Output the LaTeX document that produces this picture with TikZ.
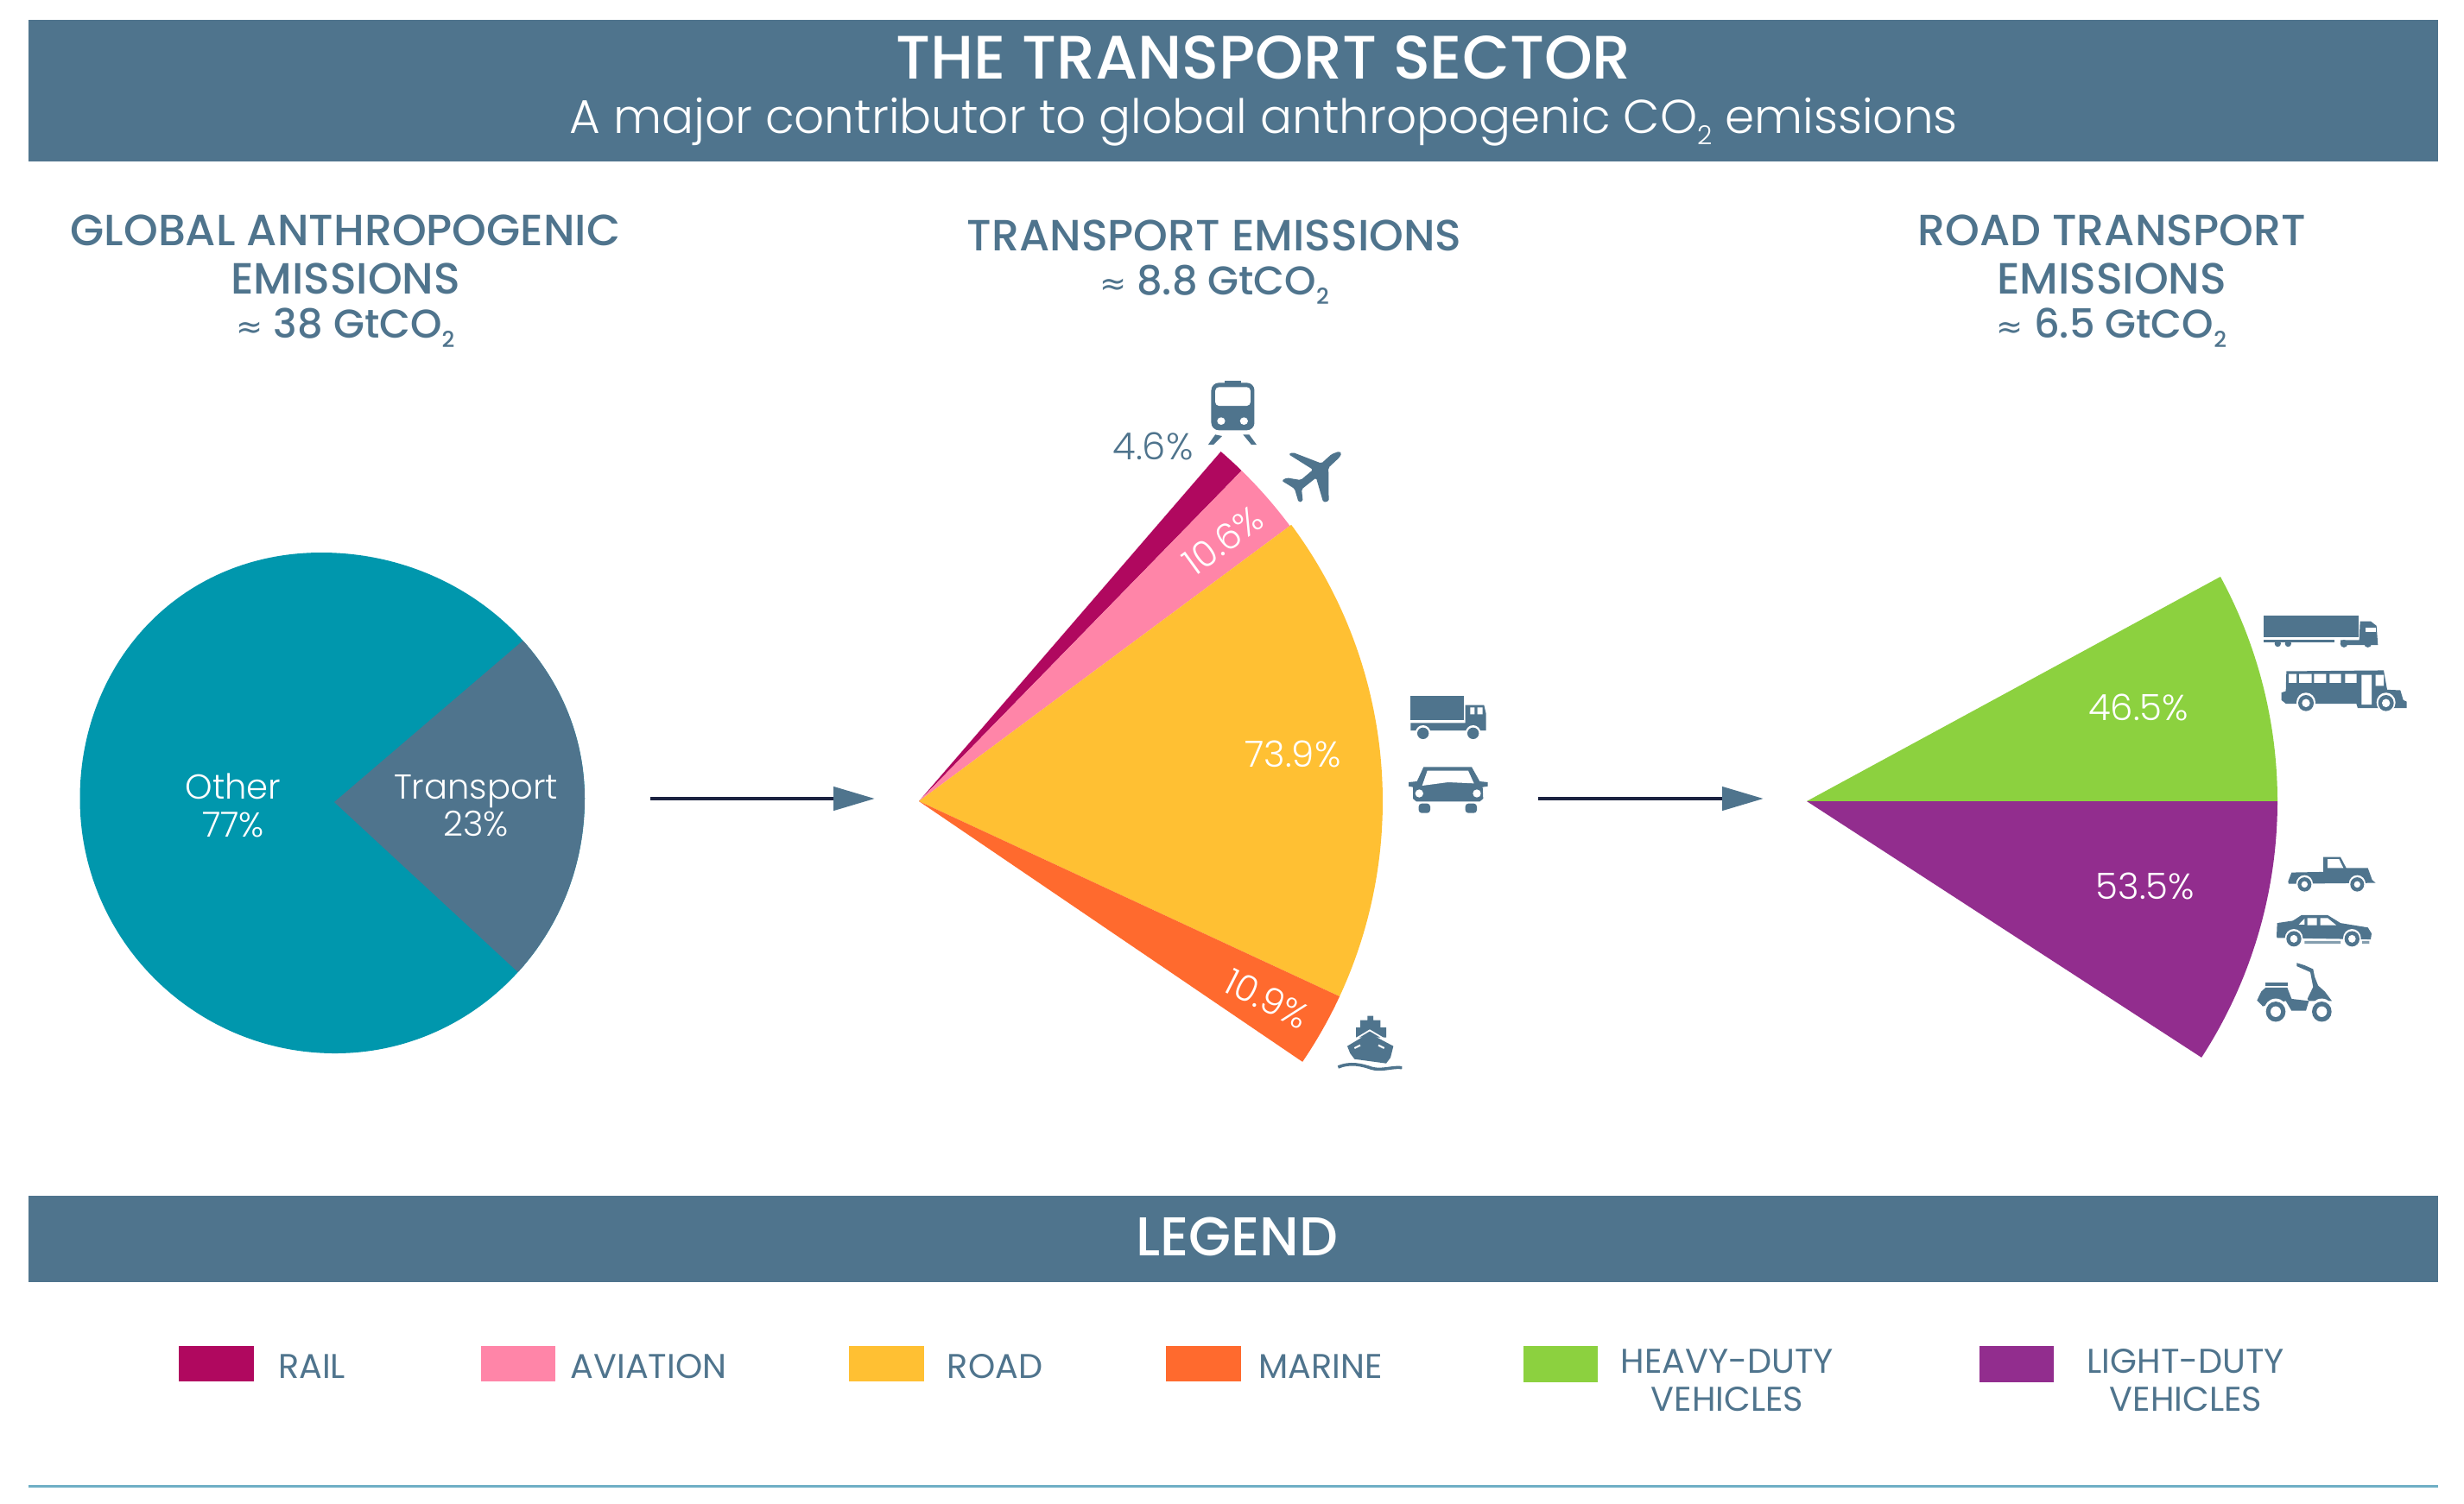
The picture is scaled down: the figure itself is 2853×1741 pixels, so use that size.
\documentclass[tikz,border=0pt]{standalone}
\usepackage{fontspec}
\setmainfont{Poppins}
\newfontfamily\pmed{Poppins Medium}
\newfontfamily\plight{Poppins Light}
\newfontfamily\sym{DejaVu Sans}
\usetikzlibrary{arrows.meta}
\definecolor{slatec}{HTML}{4F748D}
\definecolor{tealc}{HTML}{0097AD}
\definecolor{railc}{HTML}{B0085F}
\definecolor{airc}{HTML}{FF85A8}
\definecolor{roadc}{HTML}{FFC033}
\definecolor{marc}{HTML}{FF6A2E}
\definecolor{heavyc}{HTML}{8CD13F}
\definecolor{lightc}{HTML}{922D8E}
\definecolor{linec}{HTML}{1B2240}
\definecolor{rulec}{HTML}{6FAFC5}
\newcommand{\cotwo}{CO\raisebox{-0.45ex}{\scalebox{0.55}{2}}}
\newcommand{\apx}{{\sym\scalebox{0.8}{≈}}}
\newcommand{\amt}{\fontsize{13.2}{15.9}\selectfont}
\tikzset{
  band/.style={fill=slatec},
  slicelabel/.style={text=white,font=\plight\fontsize{11.9}{12.4}\selectfont,align=center,inner sep=0},
  pielabel/.style={text=white,font=\plight\fontsize{11.4}{12.4}\selectfont,align=center,inner sep=0},
  heading/.style={text=slatec,font=\pmed\fontsize{14.4}{15.9}\selectfont,align=center,inner sep=0},
  legendtext/.style={text=slatec,font=\fontsize{11.3}{12.5}\selectfont,align=center,inner sep=0},
  flow/.style={line width=1.4pt,draw=linec,-{Triangle[length=13.6pt,width=7.6pt,color=slatec,fill=slatec]}},
  icon/.style={fill=slatec},
  hole/.style={fill=white},
  zoomA/.style={shift={(1240,-420)},xscale=1/2.8,yscale=-1/3},
  zoomB/.style={shift={(1500,-760)},xscale=1/3,yscale=-1/3},
  zoomC/.style={shift={(2540,-680)},xscale=1/3,yscale=-1/2.904},
}
\begin{document}
\begin{tikzpicture}[x=0.01cm,y=0.01cm]
\useasboundingbox (0,-1741) rectangle (2853,0);
\fill[white] (0,-1741) rectangle (2853,0);
% header band
\fill[band] (33,-23) rectangle (2823,-187);
\node[text=white,inner sep=0,font=\pmed\fontsize{20.2}{22}\selectfont] (title) at (1463,-67) {THE TRANSPORT SECTOR};
\node[text=white,inner sep=0,font=\plight\fontsize{15.6}{18}\selectfont] (subtitle) at (1463,-141) {A major contributor to global anthropogenic \cotwo{} emissions};
% headings
\node[heading] (h1) at (400,-326) {GLOBAL ANTHROPOGENIC\\EMISSIONS\\[-1.5pt]{\amt\apx{} 38 Gt\cotwo}};
\node[heading] (h2) at (1406,-304) {TRANSPORT EMISSIONS\\[-1.5pt]{\amt\apx{} 8.8 Gt\cotwo}};
\node[heading] (h3) at (2445,-326) {ROAD TRANSPORT\\EMISSIONS\\[-1.5pt]{\amt\apx{} 6.5 Gt\cotwo}};
% global pie
\fill[tealc] (372,-640) .. controls (540,-640) and (677,-768) .. (677,-925)
  .. controls (677,-1088) and (548,-1220) .. (388,-1220)
  .. controls (225,-1220) and (92.5,-1088) .. (92.5,-925)
  .. controls (92.5,-768) and (208,-640) .. (372,-640) -- cycle;
\begin{scope}
\clip (372,-640) .. controls (540,-640) and (677,-768) .. (677,-925)
  .. controls (677,-1088) and (548,-1220) .. (388,-1220)
  .. controls (225,-1220) and (92.5,-1088) .. (92.5,-925)
  .. controls (92.5,-768) and (208,-640) .. (372,-640) -- cycle;
\fill[slatec] (387,-929) -- (666.5,-689.8) -- (800,-689.8) -- (800,-1187.7) -- (666.5,-1187.7) -- cycle;
\end{scope}
\node[pielabel] (other) at (270,-933) {Other\\77\%};
\node[pielabel] (transport) at (551,-933) {Transport\\23\%};
% transport fan
\coordinate (c2) at (1064,-928);
\fill[railc] (c2) -- ++(49.2:535) arc[start angle=49.2,end angle=45.7,radius=535] -- cycle;
\fill[airc] (c2) -- ++(45.7:535) arc[start angle=45.7,end angle=36.6,radius=535] -- cycle;
\fill[roadc] (c2) -- ++(36.6:537) arc[start angle=36.6,end angle=-24.9,radius=537] -- cycle;
\fill[marc] (c2) -- ++(-24.9:537) arc[start angle=-24.9,end angle=-34.2,radius=537] -- cycle;
\node[text=slatec,inner sep=0,font=\plight\fontsize{12.3}{14}\selectfont] (p46) at (1335,-517) {4.6\%};
\node[slicelabel,rotate=36] (p106) at (1416,-626) {10.6\%};
\node[slicelabel] (p739) at (1497,-873) {73.9\%};
\node[slicelabel,rotate=-27] (p109) at (1467,-1157) {10.9\%};
% road fan
\coordinate (c3) at (2092,-928);
\fill[heavyc] (c3) -- ++(28.5:545) arc[start angle=28.5,end angle=0,radius=545] -- cycle;
\fill[lightc] (c3) -- ++(0:545) arc[start angle=0,end angle=-33,radius=545] -- cycle;
\node[slicelabel] (p465) at (2476,-819) {46.5\%};
\node[slicelabel] (p535) at (2484,-1026) {53.5\%};
% flow arrows
\coordinate (a1) at (753,-925);
\coordinate (a2) at (1013,-925);
\coordinate (b1) at (1781,-925);
\coordinate (b2) at (2042,-925);
\draw[flow] (a1) -- (a2);
\draw[flow] (b1) -- (b2);
% train
\begin{scope}[zoomA]
\fill[icon] (498,64) rectangle (552,74);
\fill[icon,rounded corners=2.5pt] (455,70) rectangle (595,235);
\fill[hole,rounded corners=1.2pt] (468,85) rectangle (582,150);
\fill[hole] (487,203) circle (13) (561,203) circle (13);
\fill[icon] (468,250) -- (490,255) -- (462,285) -- (445,285) -- cycle;
\fill[icon] (558,250) -- (578,250) -- (602,285) -- (585,285) -- cycle;
% plane
\fill[icon,rounded corners=0.5pt] (870,308) -- (845,318) -- (812,350) -- (720,312) -- (705,318) -- (785,372) -- (745,408) -- (700,400) -- (683,410) -- (725,438) -- (738,485) -- (752,482) -- (748,440) -- (795,400) -- (818,485) -- (836,482) -- (835,365) -- (870,330) -- (878,315) -- cycle;
\end{scope}
\begin{scope}[zoomB]
% truck
\fill[icon] (400,138) rectangle (585,222);
\fill[icon] (400,232) -- (590,232) -- (590,170) -- (655,170) -- (662,200) -- (662,258) -- (400,258) -- cycle;
\fill[hole] (607,178) rectangle (622,202) (632,178) rectangle (650,202);
\fill[hole] (443,266) circle (26) (617,266) circle (26);
\fill[icon] (443,268) circle (20) (617,268) circle (20);
% front car
\fill[icon] (445,385) -- (612,385) -- (640,435) -- (668,438) -- (668,452) -- (650,455) -- (652,495) -- (640,505) -- (420,505) -- (408,495) -- (408,455) -- (393,452) -- (393,438) -- (422,435) -- cycle;
\fill[hole] (458,398) -- (600,398) -- (620,442) -- (530,438) -- (440,450) -- cycle;
\fill[hole] (430,477) circle (14) (630,477) circle (14);
\fill[icon,rounded corners=1pt] (428,512) rectangle (468,545) (590,512) rectangle (630,545);
% ship
\fill[icon] (250,1250) rectangle (270,1265) (225,1265) rectangle (295,1292) (210,1290) rectangle (315,1325);
\fill[icon] (180,1355) -- (255,1310) -- (340,1355) -- (330,1395) -- (315,1415) -- (205,1400) -- (190,1380) -- cycle;
\draw[white,line width=0.5pt] (205,1332) -- (258,1300) -- (312,1332);
\draw[white,line width=0.6pt] (205,1362) -- (225,1352) (288,1352) -- (308,1362);
\draw[slatec,line width=1pt] (148,1428) .. controls (190,1410) and (230,1420) .. (265,1432) .. controls (300,1442) and (340,1425) .. (370,1430);
\end{scope}
\begin{scope}[zoomC]
% lorry
\fill[icon] (243,95) rectangle (572,167);
\fill[icon] (578,115) -- (615,115) -- (635,130) -- (640,195) -- (510,195) -- (510,178) -- (575,178) -- cycle;
\fill[hole] (598,135) rectangle (632,150);
\fill[icon] (243,176) rectangle (490,186);
\fill[icon] (292,190) circle (11) (328,190) circle (11) (522,190) circle (13) (605,190) circle (13);
% bus
\fill[icon] (322,283) -- (660,280) -- (672,345) -- (718,347) -- (728,380) -- (740,385) -- (740,407) -- (570,407) -- (565,392) -- (320,392) -- (305,380) -- (305,355) -- (320,350) -- cycle;
\fill[hole] (330,292) rectangle (357,322) (366,292) rectangle (410,322) (418,292) rectangle (460,322) (472,292) rectangle (512,322) (526,292) rectangle (566,322) (583,295) rectangle (618,395) (632,295) rectangle (660,332);
\fill[hole] (390,388) circle (33) (668,388) circle (33);
\fill[icon] (390,390) circle (27) (668,390) circle (27);
\fill[hole] (390,390) circle (14) (668,390) circle (14);
% pickup
\fill[icon] (328,990) -- (340,960) -- (450,958) -- (450,908) -- (510,908) -- (530,945) -- (605,945) -- (620,985) -- (632,995) -- (330,998) -- cycle;
\fill[hole] (465,915) -- (505,915) -- (520,945) -- (465,945) -- cycle;
\fill[hole] (385,998) circle (29) (568,998) circle (29);
\fill[icon] (385,1000) circle (24) (568,1000) circle (24);
\fill[hole] (385,1000) circle (11) (568,1000) circle (11);
% sedan
\fill[icon] (288,1175) -- (290,1130) -- (345,1122) -- (375,1103) -- (465,1103) -- (510,1130) -- (605,1145) -- (618,1165) -- (615,1185) -- (290,1180) -- cycle;
\fill[hole] (365,1135) -- (385,1115) -- (385,1135) -- cycle (395,1113) rectangle (428,1137) (440,1113) -- (465,1113) -- (495,1137) -- (440,1137) -- cycle;
\fill[slatec!70] (385,1190) rectangle (510,1200) (585,1190) rectangle (610,1200);
\fill[hole] (348,1181) circle (31) (550,1181) circle (31);
\fill[icon] (348,1183) circle (26) (550,1183) circle (26);
\fill[hole] (348,1183) circle (13) (550,1183) circle (13);
% scooter
\fill[icon] (250,1330) rectangle (328,1342);
\fill[icon] (358,1264) -- (385,1272) -- (415,1285) -- (420,1310) -- (432,1340) -- (455,1360) -- (480,1392) -- (400,1392) -- (390,1425) -- (340,1425) -- (340,1385) -- (325,1347) -- (250,1347) -- (235,1360) -- (220,1390) -- (240,1410) -- (320,1392) -- (340,1425) -- (340,1385) -- (400,1392) -- (395,1385) -- (415,1345) -- (405,1295) -- (358,1275) -- cycle;
\fill[hole] (285,1425) circle (41) (445,1425) circle (41);
\fill[icon] (285,1428) circle (34) (445,1428) circle (34);
\fill[hole] (285,1428) circle (18) (445,1428) circle (18);
\end{scope}
% legend
\fill[band] (33,-1385) rectangle (2823,-1485);
\node[text=white,inner sep=0,font=\pmed\fontsize{18}{20}\selectfont] (legend) at (1432,-1432) {LEGEND};
\fill[railc] (207,-1559) rectangle (294,-1600);
\fill[airc] (557,-1559) rectangle (643,-1600);
\fill[roadc] (983,-1559) rectangle (1070,-1600);
\fill[marc] (1350,-1559) rectangle (1437,-1600);
\fill[heavyc] (1764,-1559) rectangle (1850,-1601);
\fill[lightc] (2292,-1559) rectangle (2378,-1601);
\node[legendtext] (l1) at (361,-1583) {RAIL};
\node[legendtext] (l2) at (751,-1583) {AVIATION};
\node[legendtext] (l3) at (1152,-1583) {ROAD};
\node[legendtext] (l4) at (1529,-1583) {MARINE};
\node[legendtext] (l5) at (2000,-1599) {HEAVY-DUTY\\VEHICLES};
\node[legendtext] (l6) at (2531,-1599) {LIGHT-DUTY\\VEHICLES};
% bottom rule
\fill[rulec] (33,-1720) rectangle (2823,-1723);
\end{tikzpicture}
\end{document}
